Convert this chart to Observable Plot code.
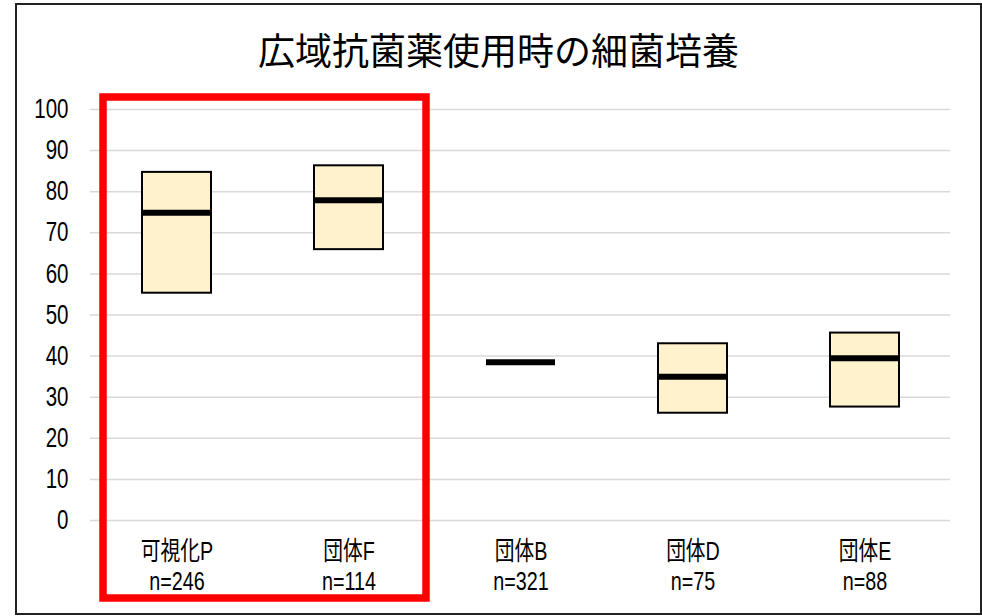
<!DOCTYPE html>
<html><head><meta charset="utf-8">
<script src="https://cdn.jsdelivr.net/npm/d3@7"></script>
<script src="https://cdn.jsdelivr.net/npm/@observablehq/plot@0.6"></script>
<style>
body{margin:0;background:#fff;}
#wrap{position:relative;width:982px;height:616px;overflow:hidden;background:#fff;}
#border{position:absolute;left:15px;top:3px;width:967px;height:612px;border:2px solid #222;box-sizing:border-box;pointer-events:none;}
#title{position:absolute;left:17px;width:963px;top:31px;text-align:center;font:37px/37px "Noto Sans CJK JP",sans-serif;color:#000;}
#chart{position:absolute;left:0;top:0;}
</style></head><body>
<div id="wrap"><div id="chart"></div><div id="title">広域抗菌薬使用時の細菌培養</div><div id="border"></div></div>
<script>
const categories = ["可視化P", "団体F", "団体B", "団体D", "団体E"];
const sampleSizes = [246, 114, 321, 75, 88];
const lowerValues = [55.3, 65.9, null, 26.1, 27.6];
const upperValues = [84.7, 86.3, null, 43.0, 45.6];
const medianValues = [74.9, 77.9, 38.5, 35.0, 39.5];
const yTicks = [0, 10, 20, 30, 40, 50, 60, 70, 80, 90, 100];
const highlighted = ["可視化P", "団体F"];

const data = categories.map((c, i) => ({cat: c, n: sampleSizes[i], lo: lowerValues[i], hi: upperValues[i], med: medianValues[i]}));
const nOf = Object.fromEntries(data.map(d => [d.cat, d.n]));
const fontFam = '"Liberation Sans","Noto Sans CJK JP",sans-serif';

const plot = Plot.plot({
  width: 982, height: 616,
  marginLeft: 90, marginRight: 32, marginTop: 109, marginBottom: 96,
  style: {fontFamily: fontFam, color: "#000", background: "transparent"},
  x: {domain: categories, paddingInner: 0.6, paddingOuter: 0.3, label: null},
  y: {domain: [0, 100], label: null},
  marks: [
    Plot.gridY(yTicks, {stroke: "#d9d9d9", strokeOpacity: 1, strokeWidth: 1.5}),
    Plot.barY(data.filter(d => d.lo != null), {x: "cat", y1: "lo", y2: "hi", fill: "#FFF2CC", stroke: "#000", strokeWidth: 2}),
    Plot.tickY(data, {x: "cat", y: "med", stroke: "#000", strokeWidth: 6}),
    Plot.axisY(yTicks, {tickSize: 0, tickPadding: 22, fontSize: 27, label: null}),
    Plot.axisX({tickSize: 0, tickPadding: 18, fontSize: 26, lineHeight: 1.15, label: null,
      tickFormat: d => `${d}\nn=${nOf[d]}`})
  ]
});

// narrow the axis label glyphs horizontally (condensed look), around each label's anchor
d3.select(plot).selectAll('g[aria-label$="tick label"] text').each(function () {
  const t = this.getAttribute("transform") || "";
  this.setAttribute("transform", t + " scale(0.76,1)");
});

(function () {
  const xs = plot.scale("x"), ys = plot.scale("y");
  const rLeft = xs.apply(highlighted[0]) - 39;
  const rRight = xs.apply(highlighted[highlighted.length - 1]) + xs.bandwidth + 43;
  const rTop = ys.apply(100) - 12;
  const rBottom = ys.apply(0) + 78;
  d3.select(plot).append("rect")
    .attr("x", rLeft).attr("y", rTop)
    .attr("width", rRight - rLeft).attr("height", rBottom - rTop)
    .attr("fill", "none").attr("stroke", "#ff0000").attr("stroke-width", 7.5);
})();

document.getElementById("chart").appendChild(plot);
</script>
</body></html>
